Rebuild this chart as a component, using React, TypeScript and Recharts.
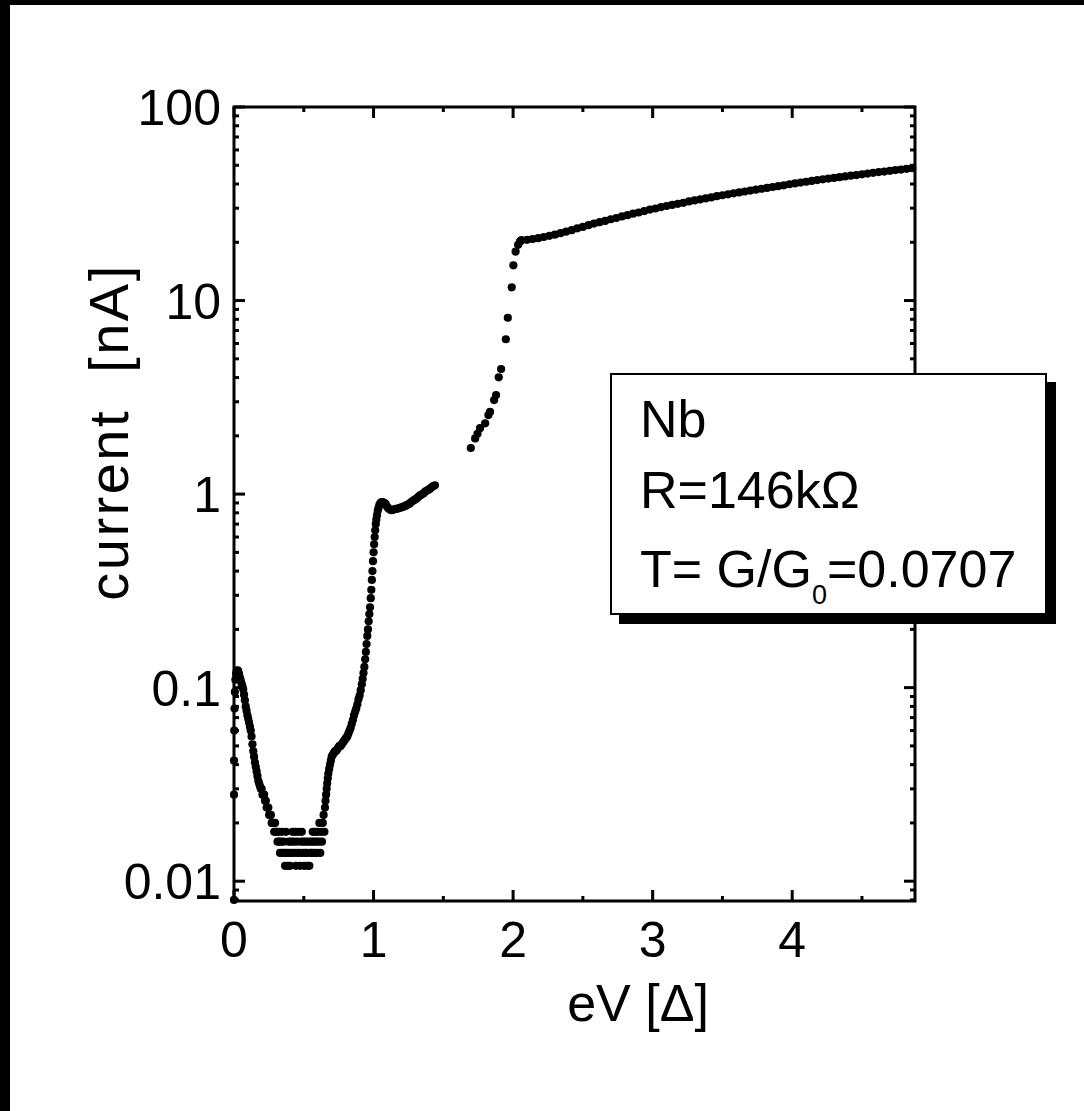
import React from 'react';
import { ScatterChart, Scatter, XAxis, YAxis, ReferenceArea } from 'recharts';

// ---- measured I(V) sweep, [eV/Δ, current in nA] ----
const zeroBiasPoints: [number, number][] = [
  [0, 0.008], [0, 0.028], [0, 0.042], [0.002, 0.06], [0.004, 0.078], [0.006, 0.095],
  [0.01, 0.11], [0.015, 0.118], [0.02, 0.122], [0.025, 0.123],
];

const decayPoints: [number, number][] = [
  [0.03, 0.122], [0.036, 0.118], [0.042, 0.113], [0.048, 0.109], [0.054, 0.105], [0.06, 0.102],
  [0.066, 0.098], [0.072, 0.092], [0.078, 0.086], [0.084, 0.08], [0.09, 0.076], [0.096, 0.072],
  [0.102, 0.069], [0.108, 0.066], [0.114, 0.063], [0.12, 0.06], [0.126, 0.056], [0.132, 0.051],
  [0.138, 0.047], [0.144, 0.044], [0.15, 0.041], [0.156, 0.039], [0.162, 0.037], [0.168, 0.035],
  [0.174, 0.033], [0.18, 0.032], [0.186, 0.031], [0.192, 0.03], [0.198, 0.03], [0.204, 0.028],
  [0.21, 0.028], [0.216, 0.028], [0.222, 0.026], [0.228, 0.026], [0.234, 0.024], [0.24, 0.024],
  [0.246, 0.024], [0.252, 0.022], [0.258, 0.022], [0.264, 0.022], [0.27, 0.02], [0.276, 0.02],
  [0.282, 0.02],
];

const gapFloorPoints: [number, number][] = [
  [0.288, 0.018], [0.294, 0.02], [0.3, 0.018], [0.306, 0.018], [0.312, 0.016], [0.318, 0.018],
  [0.324, 0.016], [0.33, 0.014], [0.336, 0.016], [0.342, 0.018], [0.348, 0.014], [0.354, 0.016],
  [0.36, 0.014], [0.366, 0.012], [0.372, 0.018], [0.378, 0.014], [0.384, 0.012], [0.39, 0.016],
  [0.396, 0.014], [0.402, 0.012], [0.408, 0.016], [0.414, 0.014], [0.42, 0.018], [0.426, 0.016],
  [0.432, 0.014], [0.438, 0.018], [0.444, 0.012], [0.45, 0.016], [0.456, 0.014], [0.462, 0.018],
  [0.468, 0.014], [0.474, 0.012], [0.48, 0.016], [0.486, 0.018], [0.492, 0.014], [0.498, 0.016],
  [0.504, 0.012], [0.51, 0.014], [0.516, 0.016], [0.522, 0.014], [0.528, 0.012], [0.534, 0.016],
  [0.54, 0.012], [0.546, 0.014], [0.552, 0.016], [0.558, 0.014], [0.564, 0.018], [0.57, 0.016],
  [0.576, 0.014], [0.582, 0.018], [0.588, 0.016], [0.594, 0.014], [0.6, 0.018], [0.606, 0.016],
  [0.612, 0.02], [0.618, 0.014], [0.624, 0.018], [0.63, 0.016], [0.636, 0.02], [0.642, 0.022],
  [0.648, 0.018],
];

const onsetPoints: [number, number][] = [
  [0.652, 0.024], [0.656, 0.026], [0.66, 0.028], [0.664, 0.03], [0.668, 0.032], [0.672, 0.034],
  [0.676, 0.036], [0.682, 0.038], [0.688, 0.04], [0.694, 0.042], [0.7, 0.044], [0.708, 0.045],
  [0.716, 0.046], [0.724, 0.047], [0.732, 0.047], [0.74, 0.048], [0.748, 0.049], [0.756, 0.05],
  [0.764, 0.05], [0.772, 0.051], [0.78, 0.052], [0.788, 0.053], [0.796, 0.054], [0.804, 0.055],
  [0.812, 0.056], [0.82, 0.058], [0.828, 0.06], [0.836, 0.062], [0.844, 0.065], [0.852, 0.068],
  [0.86, 0.072], [0.868, 0.075], [0.876, 0.078], [0.884, 0.082], [0.892, 0.087], [0.9, 0.091],
  [0.908, 0.097], [0.916, 0.104], [0.922, 0.111], [0.928, 0.119], [0.934, 0.128], [0.94, 0.14],
  [0.945, 0.153], [0.95, 0.168], [0.955, 0.185], [0.96, 0.2], [0.965, 0.22], [0.97, 0.24],
  [0.975, 0.26], [0.98, 0.29], [0.984, 0.32], [0.988, 0.36], [0.992, 0.4], [0.996, 0.45],
  [1.0, 0.5], [1.004, 0.55], [1.008, 0.6], [1.012, 0.65], [1.016, 0.7], [1.02, 0.74],
  [1.025, 0.78], [1.03, 0.82], [1.036, 0.85], [1.042, 0.88], [1.05, 0.9], [1.058, 0.91],
  [1.066, 0.91], [1.074, 0.9], [1.082, 0.895], [1.09, 0.88], [1.098, 0.86], [1.106, 0.845],
  [1.114, 0.835], [1.122, 0.83], [1.13, 0.826], [1.14, 0.83], [1.15, 0.835], [1.16, 0.84],
  [1.17, 0.84], [1.18, 0.845], [1.19, 0.85], [1.2, 0.855], [1.21, 0.86], [1.22, 0.865],
  [1.23, 0.87], [1.24, 0.88], [1.25, 0.885], [1.26, 0.895], [1.27, 0.91], [1.28, 0.92],
  [1.29, 0.93], [1.3, 0.94], [1.31, 0.95], [1.32, 0.965], [1.33, 0.98], [1.34, 0.99],
  [1.35, 1.0], [1.36, 1.01], [1.37, 1.03], [1.38, 1.04], [1.39, 1.05], [1.4, 1.06],
  [1.41, 1.075], [1.42, 1.09], [1.43, 1.1], [1.44, 1.11],
];

const gapEdgePoints: [number, number][] = [
  [1.697, 1.73], [1.728, 1.94], [1.745, 2.05], [1.763, 2.19], [1.8, 2.32], [1.823, 2.56],
  [1.835, 2.66], [1.864, 3.06], [1.878, 3.25], [1.897, 4.01], [1.914, 4.43], [1.948, 6.31],
  [1.962, 8.15], [1.99, 11.7], [2.002, 15.2], [2.018, 17.9], [2.036, 19.4], [2.05, 20.2],
];

const normalStatePoints: [number, number][] = [
  [2.06, 20.5], [2.1, 20.6], [2.14, 20.8], [2.18, 21.0], [2.22, 21.3], [2.26, 21.6],
  [2.3, 21.9], [2.34, 22.3], [2.38, 22.7], [2.42, 23.1], [2.46, 23.6], [2.5, 24.0],
  [2.54, 24.5], [2.58, 25.0], [2.62, 25.4], [2.66, 25.8], [2.7, 26.3], [2.74, 26.7],
  [2.78, 27.2], [2.82, 27.6], [2.86, 28.1], [2.9, 28.5], [2.94, 29.0], [2.98, 29.5],
  [3.02, 29.9], [3.06, 30.4], [3.1, 30.8], [3.14, 31.2], [3.18, 31.6], [3.22, 32.0],
  [3.26, 32.5], [3.3, 32.9], [3.34, 33.3], [3.38, 33.7], [3.42, 34.1], [3.46, 34.6],
  [3.5, 35.0], [3.54, 35.4], [3.58, 35.8], [3.62, 36.2], [3.66, 36.6], [3.7, 37.0],
  [3.74, 37.4], [3.78, 37.8], [3.82, 38.2], [3.86, 38.6], [3.9, 39.0], [3.94, 39.4],
  [3.98, 39.9], [4.02, 40.3], [4.06, 40.7], [4.1, 41.1], [4.14, 41.5], [4.18, 41.9],
  [4.22, 42.3], [4.26, 42.7], [4.3, 43.0], [4.34, 43.4], [4.38, 43.8], [4.42, 44.2],
  [4.46, 44.5], [4.5, 44.9], [4.54, 45.3], [4.58, 45.7], [4.62, 46.1], [4.66, 46.4],
  [4.7, 46.8], [4.74, 47.2], [4.78, 47.5], [4.82, 47.9], [4.86, 48.3],
];

// ---- axes ----
const X_DOMAIN: [number, number] = [0, 4.88];
const Y_DOMAIN: [number, number] = [0.0079, 100];
const X_TICKS = [0, 0.5, 1, 1.5, 2, 2.5, 3, 3.5, 4, 4.5];
const Y_TICKS = [
  0.008, 0.009,
  0.01, 0.02, 0.03, 0.04, 0.05, 0.06, 0.07, 0.08, 0.09,
  0.1, 0.2, 0.3, 0.4, 0.5, 0.6, 0.7, 0.8, 0.9,
  1, 2, 3, 4, 5, 6, 7, 8, 9,
  10, 20, 30, 40, 50, 60, 70, 80, 90,
  100,
];

const X_TITLE = 'eV [Δ]';
const Y_TITLE = 'current  [nA]';
const LEGEND_LINES = ['Nb', 'R=146kΩ'];

// ---- layout ----
const FONT = '"Liberation Sans", Arial, Helvetica, sans-serif';
const WIDTH = 1084;
const HEIGHT = 1111;
const PLOT = { left: 234, top: 107, right: 915, bottom: 901 };
const AXIS_BAND = 100;
const MAJOR_LEN = 11;
const MINOR_LEN = 5;
const STROKE = 3;
const FONT_SIZE = 50;
const DOT_R = 4.1;

const sweep = [
  ...zeroBiasPoints,
  ...decayPoints,
  ...gapFloorPoints,
  ...onsetPoints,
  ...gapEdgePoints,
  ...normalStatePoints,
].map(([v, i]) => ({ v, i }));

const isDecade = (value: number) => {
  const e = Math.log10(value);
  return Math.abs(e - Math.round(e)) < 1e-9;
};

function XTick(props: any) {
  const { x, y, payload } = props;
  const major = Number.isInteger(payload.value);
  const len = major ? MAJOR_LEN : MINOR_LEN;
  return (
    <g>
      <line x1={x} x2={x} y1={y} y2={y - len} stroke="#000" strokeWidth={STROKE} />
      <line x1={x} x2={x} y1={PLOT.top} y2={PLOT.top + len} stroke="#000" strokeWidth={STROKE} />
      {major && (
        <text x={x} y={y + 56} textAnchor="middle" fontSize={FONT_SIZE} fontFamily={FONT} fill="#000">
          {payload.value}
        </text>
      )}
    </g>
  );
}

function YTick(props: any) {
  const { x, y, payload } = props;
  const major = isDecade(payload.value);
  const len = major ? MAJOR_LEN : MINOR_LEN;
  return (
    <g>
      <line x1={x} x2={x + len} y1={y} y2={y} stroke="#000" strokeWidth={STROKE} />
      <line x1={PLOT.right - len} x2={PLOT.right} y1={y} y2={y} stroke="#000" strokeWidth={STROKE} />
      {major && (
        <text x={x - 13} y={y + 18} textAnchor="end" fontSize={FONT_SIZE} fontFamily={FONT} fill="#000">
          {String(payload.value)}
        </text>
      )}
    </g>
  );
}

function Dot(props: any) {
  const { cx, cy } = props;
  if (cx == null || cy == null) return null;
  return <circle cx={cx} cy={cy} r={DOT_R} fill="#000" />;
}

function Legend() {
  const w = 437;
  const h = 242;
  const shadow = 9;
  const size = 52;
  return (
    <svg
      width={w + shadow + 2}
      height={h + shadow + 2}
      style={{ position: 'absolute', left: 610, top: 373, overflow: 'visible' }}
    >
      <rect x={shadow} y={shadow} width={w} height={h} fill="#000" />
      <rect x={1} y={1} width={w - 2} height={h - 2} fill="#fff" stroke="#000" strokeWidth={2} />
      <g fontFamily={FONT} fontSize={size} fill="#000">
        <text x={30} y={64}>{LEGEND_LINES[0]}</text>
        <text x={30} y={135}>{LEGEND_LINES[1]}</text>
        <text x={30} y={214}>
          T= G/G
          <tspan fontSize={27} dy={17}>0</tspan>
          <tspan dy={-17}>=0.0707</tspan>
        </text>
      </g>
    </svg>
  );
}

export default function App() {
  return (
    <div style={{ position: 'absolute', left: 0, top: 0, width: WIDTH, height: HEIGHT, background: '#fff' }}>
      <ScatterChart
        width={WIDTH}
        height={HEIGHT}
        margin={{
          top: PLOT.top,
          left: PLOT.left - AXIS_BAND,
          right: WIDTH - PLOT.right,
          bottom: HEIGHT - PLOT.bottom - AXIS_BAND,
        }}
      >
        <XAxis
          type="number"
          dataKey="v"
          domain={X_DOMAIN}
          ticks={X_TICKS}
          interval={0}
          height={AXIS_BAND}
          tickSize={0}
          tickMargin={0}
          axisLine={false}
          tickLine={false}
          tick={(p: any) => <XTick {...p} />}
          label={{
            content: (p: any) => {
              const vb = p.viewBox || {};
              return (
                <text
                  x={vb.x + 404}
                  y={vb.y + 120}
                  textAnchor="middle"
                  fontSize={52}
                  fontFamily={FONT}
                  fill="#000"
                >
                  {X_TITLE}
                </text>
              );
            },
          }}
        />
        <YAxis
          type="number"
          dataKey="i"
          scale="log"
          domain={Y_DOMAIN}
          ticks={Y_TICKS}
          interval={0}
          width={AXIS_BAND}
          tickSize={0}
          tickMargin={0}
          axisLine={false}
          tickLine={false}
          tick={(p: any) => <YTick {...p} />}
          label={{
            content: () => (
              <text
                transform={`translate(${PLOT.left - 106}, 432) rotate(-90)`}
                textAnchor="middle"
                fontSize={56}
                fontFamily={FONT}
                fill="#000"
                letterSpacing={2.5}
                style={{ whiteSpace: 'pre' }}
              >
                {Y_TITLE}
              </text>
            ),
          }}
        />
        <ReferenceArea
          x1={X_DOMAIN[0]}
          x2={X_DOMAIN[1]}
          y1={Y_DOMAIN[0]}
          y2={Y_DOMAIN[1]}
          fill="none"
          fillOpacity={0}
          stroke="#000"
          strokeWidth={STROKE}
          ifOverflow="visible"
        />
        <Scatter data={sweep} fill="#000" shape={(p: any) => <Dot {...p} />} isAnimationActive={false} />
      </ScatterChart>
      <div style={{ position: 'absolute', left: 0, top: 0, width: WIDTH, height: 5, background: '#000' }} />
      <div style={{ position: 'absolute', left: 0, top: 0, width: 10, height: HEIGHT, background: '#000' }} />
      <Legend />
    </div>
  );
}
